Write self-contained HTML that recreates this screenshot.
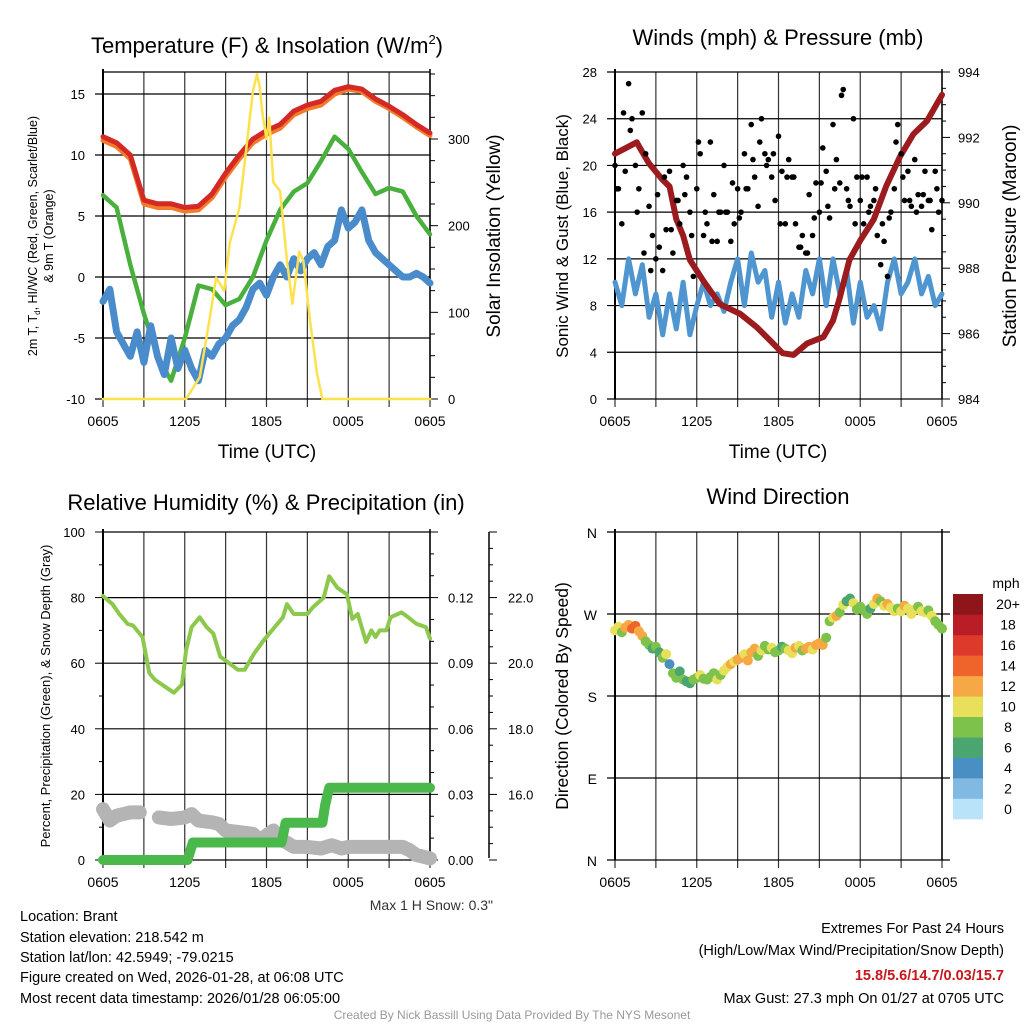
<!DOCTYPE html>
<html><head><meta charset="utf-8"><style>
html,body{margin:0;padding:0;background:#fff;}
svg{display:block;font-family:"Liberation Sans",Arial,sans-serif;}
</style></head><body>
<svg id="chart" width="1024" height="1024" viewBox="0 0 1024 1024">
<rect width="1024" height="1024" fill="#fff"/>
<g id="static" fill="#000">
<text x="267" y="53" font-size="22" text-anchor="middle">Temperature (F) &amp; Insolation (W/m<tspan font-size="13" dy="-9">2</tspan><tspan dy="9">)</tspan></text>
<text x="778" y="45" font-size="22" text-anchor="middle">Winds (mph) &amp; Pressure (mb)</text>
<text x="266" y="510" font-size="22" text-anchor="middle">Relative Humidity (%) &amp; Precipitation (in)</text>
<text x="778" y="504" font-size="22" text-anchor="middle">Wind Direction</text>
<text x="267" y="458" font-size="19" text-anchor="middle">Time (UTC)</text>
<text x="778" y="458" font-size="19" text-anchor="middle">Time (UTC)</text>
<text transform="translate(37,236) rotate(-90)" font-size="12.5" text-anchor="middle">2m T, T<tspan font-size="8" dy="3">d</tspan><tspan dy="-3">, HI/WC (Red, Green, Scarlet/Blue)</tspan></text>
<text transform="translate(53,236) rotate(-90)" font-size="12.5" text-anchor="middle">&amp; 9m T (Orange)</text>
<text transform="translate(500,236) rotate(-90)" font-size="19" text-anchor="middle">Solar Insolation (Yellow)</text>
<text transform="translate(568,236) rotate(-90)" font-size="17" text-anchor="middle">Sonic Wind &amp; Gust (Blue, Black)</text>
<text transform="translate(1016,236) rotate(-90)" font-size="19" text-anchor="middle">Station Pressure (Maroon)</text>
<text transform="translate(50,696) rotate(-90)" font-size="13" text-anchor="middle">Percent, Precipitation (Green), &amp; Snow Depth (Gray)</text>
<text transform="translate(568,696) rotate(-90)" font-size="17.5" text-anchor="middle">Direction (Colored By Speed)</text>
<text x="493" y="910" font-size="14" text-anchor="end" fill="#333">Max 1 H Snow: 0.3"</text>
<g font-size="14.5">
<text x="20" y="921">Location: Brant</text>
<text x="20" y="942">Station elevation: 218.542 m</text>
<text x="20" y="962">Station lat/lon: 42.5949; -79.0215</text>
<text x="20" y="982">Figure created on Wed, 2026-01-28, at 06:08 UTC</text>
<text x="20" y="1003">Most recent data timestamp: 2026/01/28 06:05:00</text>
</g>
<g font-size="14.5" text-anchor="end">
<text x="1004" y="933">Extremes For Past 24 Hours</text>
<text x="1004" y="955">(High/Low/Max Wind/Precipitation/Snow Depth)</text>
<text x="1004" y="980" fill="#c8161d" font-weight="bold">15.8/5.6/14.7/0.03/15.7</text>
<text x="1004" y="1003">Max Gust: 27.3 mph On 01/27 at 0705 UTC</text>
</g>
<text x="512" y="1019" font-size="12" text-anchor="middle" fill="#999">Created By Nick Bassill Using Data Provided By The NYS Mesonet</text>
</g>
</svg>
<script>
// ---------- data ----------
const timeLabels=['0605','1205','1805','0005','0605'];
const tempTicks=[-10,-5,0,5,10,15];
const insolTicks=[0,100,200,300];
const windTicks=[0,4,8,12,16,20,24,28];
const presTicks=[984,986,988,990,992,994];
const rhTicks=[0,20,40,60,80,100];
const precipTicks=[0,0.03,0.06,0.09,0.12];
const snowTicks=[16,18,20,22];
const dirTicks=[0,90,180,270,360];
const dirLabels=['N','E','S','W','N'];
const speedBins=['0','2','4','6','8','10','12','14','16','18','20+'];
const speedColors=['#b8e3f8','#80bae3','#4a8fc4','#4aa571','#7dc24a','#e8e05a','#f6a844','#ef642a','#dd3a2b','#b91d25','#8e1519'];
// temperature (hourly)
const airTemp=[11.5,11,10,6.3,6,6,5.7,5.8,6.8,8.5,10,11.3,12,12.5,13.6,14.1,14.4,15.3,15.6,15.4,14.6,14,13.3,12.5,11.8];
const temp9m=[11.2,10.7,9.7,6,5.7,5.7,5.4,5.5,6.5,8.2,9.7,11,11.7,12.2,13.3,13.8,14.1,15,15.4,15.2,14.4,13.8,13.1,12.3,11.6];
const dewPoint=[6.7,5.7,1,-3,-6.5,-8.5,-5,-0.7,-1,-2.3,-1.8,0,3,5.5,7,7.7,9.5,11.5,10.5,8.6,6.8,7.3,7,5,3.5];
// wind chill (half-hourly)
const windChill=[-2,-1,-4.5,-5.5,-6.5,-4.5,-7,-4,-6.5,-8,-5,-7.5,-6,-7.5,-8.5,-6,-6.5,-5.5,-5,-4,-3.5,-2.5,-1,-0.5,-1.5,0,1,0,1.5,0.5,1.5,2,1,2.5,3,5.5,4,4.5,5.5,3,2,1.5,1,0.5,0,0,0.3,0,-0.5];
const insolTimes=[0,6.1,7.1,7.8,8.3,8.9,9.3,10,10.6,11,11.3,11.5,11.7,12,12.2,12.5,13,13.5,13.9,14.4,14.7,15.2,15.7,16.1,24];
const insolValues=[0,0,25,90,140,125,180,220,300,355,375,360,330,300,325,250,240,160,110,170,160,90,30,0,0];
// winds
const sustainedWind=[10,8,12,9,11.5,7,9,5.5,9,6,10,5.5,8,10,8,9,7.5,10,12,8,12.5,10,11,7,10,6.5,9,7,11,9,12,8,12,9,11,6.5,10,7,8,6,10,12,9,10,12,9,10.5,8,9];
const gustA=[20,18,15,19.5,27,24,20,18,24.5,21,16.5,14,12,13,11,14.5,19.5,12.5,17,15,20,19,16,10.5,18,21,14,15,22,17.5,13.5,16,20,16,13.5,15,18,16,21,18,23.5,19,16.5,24,21,20.5,19,17,22.5,19.5,15,20.5,19,15,13,14,12.5,17.5,14,18.5,16,21.5,19.5,15.5,23.5,20.5,18.5,26.5,18,16.5,24,19,17,15,19,16.5,17,14,11.5,13.5,10.5,16,18,23.5,21,17,19.5,16.5,20.5,17.5,16.5,19.5,17,14.5,19.5,16,17];
const gustB=[18,24.5,23,16,12.5,11,17.5,19,14.5,17,17.5,14,22,16,13.5,16,16,18.5,15.5,18,20.5,22,20,21,15,19,19,13,12.5,15.5,18.5,16.5,18,26,17,15,19,16,18,15,15.5,22,19,17,16,17.5,17,18];
const presTimes=[0,1.6,1.8,2.5,3.5,4,4.5,5,5.5,6.5,7.7,9.2,10.4,11.6,12.3,13.1,14.1,15.3,16,16.5,17.2,18,19,19.9,20.9,21.9,22.9,24];
const presValues=[991.5,991.85,991.7,991.2,990.7,990.5,989.5,989,988.25,987.6,986.9,986.6,986.2,985.7,985.4,985.35,985.7,985.9,986.4,987.1,988.25,988.85,989.5,990.5,991.4,992.1,992.5,993.3];
// humidity / precip / snow
const rhTimes=[0,0.7,1.2,1.8,2.2,2.9,3.4,3.8,4.5,5.2,5.8,6.1,6.5,7.1,7.6,8.1,8.6,9.1,9.9,10.4,11.1,11.8,12.4,13.2,13.5,14,15,15.4,16.2,16.6,17.2,17.9,18.3,18.7,19.3,19.7,20,20.3,20.8,21.1,21.9,22.4,23,23.7,24];
const rhValues=[80.5,78,75,72,71.5,68,57,55,53,51,53.5,64,71,74,71,69,62,60.5,58,58,63,67,70,74,78,75,75,77,80,86.5,83,81,73.5,75,66.5,70,68,70,70,74,75.5,74,72,71,67.5];
const precipTimes=[0,6.2,6.6,13.1,13.4,16.1,16.3,16.6,24];
const precipValues=[0,0,0.008,0.008,0.017,0.017,0.025,0.033,0.033];
const snowTimesA=[0,0.5,1,1.5,2,2.7];
const snowValuesA=[15.55,15.2,15.35,15.4,15.45,15.45];
const snowTimesB=[4.1,5,6,6.5,7,8,8.5,9,10,11,11.5,12,12.5,13,14,15,16,16.8,17.5,18,20,22,22.5,23,23.5,24];
const snowValuesB=[15.3,15.25,15.3,15.4,15.2,15.15,15.1,14.9,14.85,14.8,14.6,14.75,14.9,14.65,14.4,14.4,14.35,14.45,14.35,14.4,14.4,14.4,14.3,14.15,14.1,14.05];
// wind direction (quarter-hourly)
const windDir=[252,256,250,255,258,254,257,251,246,240,236,232,234,228,222,226,215,205,200,207,198,196,194,198,200,203,199,198,201,205,198,203,208,212,215,218,220,222,226,219,228,232,224,230,235,231,233,228,230,234,232,230,227,233,235,230,232,234,231,236,238,236,244,262,266,268,272,280,284,287,282,275,278,274,270,276,281,287,284,279,281,277,273,276,273,279,276,270,275,278,273,272,274,268,262,258,254];
const dirSpeed=[10,11,9,12,13,14,15,12,12,9,8,7,8,7,9,10,5,8,9,6,8,7,6,9,9,10,9,8,8,9,10,8,11,10,12,11,12,13,11,12,13,12,9,10,9,8,10,8,9,7,8,10,11,12,10,9,12,13,10,12,13,12,8,9,10,12,9,10,6,7,10,9,8,8,9,7,10,12,9,11,13,10,11,9,10,12,11,10,10,9,11,10,9,10,8,9,8];

// ---------- scales ----------
const x1=t=>103+t*327/24, x2=t=>615+t*327/24;
const yT=v=>399-(v+10)*12.2, yS=v=>399-v*0.8667;
const yW=v=>399-v*327/28, yP=v=>399-(v-984)*32.7;
const yR=v=>860-v*3.28, yPr=p=>yR(p/0.15*100), ySn=v=>yR((v-14)*10);
const yD=d=>860-d*328/360;

const NS='http://www.w3.org/2000/svg';
const svg=document.getElementById('chart');
function mk(tag,attrs,parent){const e=document.createElementNS(NS,tag);for(const k in attrs)e.setAttribute(k,attrs[k]);(parent||svg).appendChild(e);return e;}
function grp(name){const g=mk('g',{});


return g;}
function txt(g,x,y,s,anchor,size){const e=mk('text',{x:x,y:y,'font-size':size||13,'text-anchor':anchor||'middle'},g);e.textContent=s;


return e;}
function ln(g,xa,ya,xb,yb,col,w){const e=mk('line',{x1:xa,y1:ya,x2:xb,y2:yb,stroke:col||'#000','stroke-width':w||1},g);


return e;}
function poly(g,xs,ys,col,w,name){const e=mk('polyline',{points:xs.map((p,i)=>p.toFixed(1)+','+ys[i].toFixed(1)).join(' '),fill:'none',stroke:col,'stroke-width':w,'stroke-linejoin':'round','stroke-linecap':'round'},g);


return e;}

function frame(name,L,R,T,B,xf){
  const g=grp(name);
  for(let h=0;h<=24;h+=3){ln(g,xf(h),T,xf(h),B+8,'#333',1.2);}
  timeLabels.forEach((s,i)=>txt(g,xf(i*6),B+27,s,'middle',14));
  ln(g,L,T-3,L,B,'#000',2);ln(g,R,T-3,R,B,'#000',1.5);
  return g;
}
// Panel 1
const g1=frame('temp-axes',103,430,72,399,x1);
tempTicks.forEach(v=>{ln(g1,95,yT(v),430,yT(v),'#000',1.2);txt(g1,85,yT(v)+5,String(v),'end',13);});
for(let v=0;v<=375;v+=25){ln(g1,430,yS(v),v%100===0?438:435,yS(v),'#000',1);}
insolTicks.forEach(v=>txt(g1,448,yS(v)+5,String(v),'start',13));
ln(g1,103,72,430,72,'#000',1.2);
const hr=airTemp.map((v,i)=>i), half=windChill.map((v,i)=>i*0.5);
poly(g1,hr.map(x1),temp9m.map(yT),'#f47b2a',5,'temp-9m-line');
poly(g1,hr.map(x1),airTemp.map(yT),'#d42a26',5,'air-temp-line');
poly(g1,hr.map(x1),dewPoint.map(yT),'#49b03d',4.5,'dewpoint-line');
poly(g1,half.map(x1),windChill.map(yT),'#4a8ccb',7,'windchill-line');
poly(g1,insolTimes.map(x1),insolValues.map(yS),'#fde24e',2.5,'insolation-line');
// Panel 2
const g2=frame('wind-axes',615,942,72,399,x2);
windTicks.forEach(v=>{ln(g2,607,yW(v),942,yW(v),'#000',1.2);txt(g2,597,yW(v)+5,String(v),'end',13);});
for(let v=984;v<=994.01;v+=0.5){ln(g2,942,yP(v),Math.abs(v-Math.round(v/2)*2)<0.01?950:946,yP(v),'#000',1);}
presTicks.forEach(v=>txt(g2,958,yP(v)+5,String(v),'start',13));
poly(g2,half.map(x2),sustainedWind.map(yW),'#4f95d0',5,'sustained-wind-line');
const gd=grp('gust-dots');
gustA.forEach((v,i)=>{const c=mk('circle',{cx:x2(i*0.25),cy:yW(v),r:2.8,fill:'#000'},gd);

});
gustB.forEach((v,i)=>{const c=mk('circle',{cx:x2(0.125+i*0.5),cy:yW(v),r:2.8,fill:'#000'},gd);

});
poly(g2,presTimes.map(x2),presValues.map(yP),'#9b1b1e',6,'pressure-line');
// Panel 3
const g3=frame('rh-axes',103,430,532,860,x1);
for(let v=0;v<=100;v+=10){ln(g3,v%20===0?95:99,yR(v),103,yR(v),'#000',1);}
rhTicks.forEach(v=>{ln(g3,103,yR(v),430,yR(v),'#000',1.2);txt(g3,85,yR(v)+5,String(v),'end',13);});
for(let p=0;p<=0.15001;p+=0.01){ln(g3,430,yPr(p),Math.round(p*100)%3===0?438:434,yPr(p),'#000',1);}
precipTicks.forEach(v=>txt(g3,448,yPr(v)+5,v.toFixed(2),'start',13));
ln(g3,489,532,489,858,'#000',1.5);
for(let s=14;s<=24.01;s+=0.5){ln(g3,489,ySn(s),Math.abs(s-Math.round(s/2)*2)<0.01?497:493,ySn(s),'#000',1);}
snowTicks.forEach(v=>txt(g3,508,ySn(v)+5,v.toFixed(1),'start',13));
poly(g3,snowTimesA.map(x1),snowValuesA.map(ySn),'#b4b4b4',14,'snow-depth-line');
poly(g3,snowTimesB.map(x1),snowValuesB.map(ySn),'#b4b4b4',14,'snow-depth-line-2');
poly(g3,precipTimes.map(x1),precipValues.map(yPr),'#4ab84a',10,'precip-line');
poly(g3,rhTimes.map(x1),rhValues.map(yR),'#8cc84b',4,'rh-line');
// Panel 4
const g4=frame('direction-axes',615,942,532,860,x2);
dirTicks.forEach((d,i)=>{ln(g4,607,yD(d),950,yD(d),'#000',1.2);txt(g4,597,yD(d)+6,dirLabels[i],'end',14);});
const gdir=grp('direction-dots');
windDir.forEach((d,i)=>{const b=Math.min(10,Math.floor(dirSpeed[i]/2));
const c=mk('circle',{cx:x2(i*0.25),cy:yD(d),r:5,fill:speedColors[b]},gdir);

});
const gc=grp('speed-colorbar');
speedBins.forEach((s,i)=>{const y0=819-(i+1)*225/11;
const r=mk('rect',{x:953,y:y0,width:30,height:225/11+0.3,fill:speedColors[i]},gc);


txt(gc,1008,y0+225/22+5,s,'middle',14);});
txt(gc,1006,588,'mph','middle',14);
</script>
</body></html>
